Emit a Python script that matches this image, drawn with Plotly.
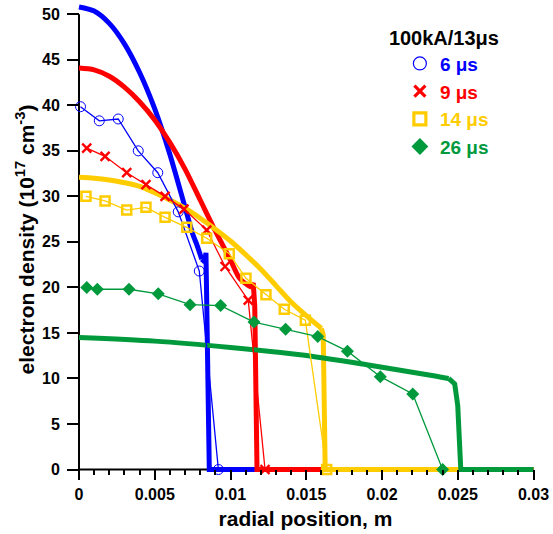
import plotly.graph_objects as go

# ---- simulation curves (thick) ----
sim_blue_x = [0, 0.001, 0.002, 0.003, 0.004, 0.005, 0.006, 0.007, 0.0075, 0.0078, 0.0081, 0.0083, 0.00838, 0.0085, 0.0086, 0.03]
sim_blue_y = [50.8, 50.35, 49.0, 46.75, 43.6, 39.6, 34.6, 28.8, 25.9, 24.6, 23.1, 22.8, 23.8, 12.0, 0, 0]

sim_red_x = [0, 0.001, 0.002, 0.003, 0.004, 0.005, 0.006, 0.007, 0.008, 0.009, 0.010, 0.0106, 0.0111, 0.0114, 0.0115, 0.0116, 0.01168, 0.01175, 0.03]
sim_red_y = [44.1, 43.9, 43.2, 42.0, 40.4, 38.4, 35.9, 33.0, 29.6, 26.2, 23.0, 21.0, 20.3, 20.0, 20.5, 18.0, 5.0, 0, 0]

sim_yel_x = [0, 0.001, 0.002, 0.003, 0.004, 0.005, 0.006, 0.007, 0.008, 0.009, 0.010, 0.011, 0.012, 0.013, 0.014, 0.015, 0.0160, 0.01612, 0.01618, 0.01625, 0.03]
sim_yel_y = [32.1, 32.0, 31.8, 31.5, 31.1, 30.4, 29.6, 28.7, 27.6, 26.4, 25.1, 23.6, 22.0, 20.2, 18.4, 16.9, 15.5, 14.8, 8.0, 0, 0]

sim_grn_x = [0, 0.005, 0.010, 0.0146, 0.019, 0.0234, 0.0244, 0.0248, 0.0250, 0.0251, 0.0252, 0.03]
sim_grn_y = [14.5, 14.1, 13.4, 12.6, 11.5, 10.3, 10.0, 9.4, 7.0, 2.0, 0, 0]

# index where each smooth profile turns into the sharp front (drawn straight from there)
front_index = [10, 13, 16, 6]

# ---- experimental points (thin lines + markers) ----
exp6_x = [0.0001, 0.00134, 0.00259, 0.00391, 0.0052, 0.00655, 0.00794, 0.0092]
exp6_y = [39.85, 38.3, 38.5, 35.0, 32.6, 28.3, 21.8, 0]

exp9_x = [0.00051, 0.00172, 0.00315, 0.00442, 0.00568, 0.00693, 0.00843, 0.00964, 0.01117, 0.01228]
exp9_y = [35.3, 34.4, 32.6, 31.3, 30.0, 28.6, 26.3, 22.3, 18.6, 0]

exp14_x = [0.00046, 0.00172, 0.00315, 0.00442, 0.00568, 0.00711, 0.00843, 0.00992, 0.01102, 0.01234, 0.01355, 0.01494, 0.01635]
exp14_y = [30.0, 29.5, 28.5, 28.8, 27.7, 26.6, 25.4, 23.7, 21.0, 19.2, 17.6, 16.4, 0]

exp26_x = [0.00051, 0.00121, 0.0033, 0.00523, 0.00733, 0.00935, 0.01155, 0.01364, 0.01576, 0.01772, 0.01989, 0.02203, 0.0240]
exp26_y = [20.0, 19.8, 19.8, 19.3, 18.1, 18.0, 16.2, 15.4, 14.6, 13.0, 10.2, 8.3, 0]

legend_labels = ["6 μs", "9 μs", "14 μs", "26 μs"]
x_tickvals = [0, 0.005, 0.01, 0.015, 0.02, 0.025, 0.03]
x_ticktext = ["0", "0.005", "0.01", "0.015", "0.02", "0.025", "0.03"]
y_tickvals = [0, 5, 10, 15, 20, 25, 30, 35, 40, 45, 50]

BLUE, RED, YEL, GRN = "#0000FF", "#FF0000", "#FFCC00", "#009A3D"

fig = go.Figure()

sims = [(sim_blue_x, sim_blue_y, BLUE), (sim_red_x, sim_red_y, RED),
        (sim_yel_x, sim_yel_y, YEL), (sim_grn_x, sim_grn_y, GRN)]
for (xs, ys, c), k in zip(sims, front_index):
    fig.add_trace(go.Scatter(x=xs[:k + 1], y=ys[:k + 1], mode="lines", showlegend=False,
                             line=dict(color=c, width=5, shape="spline", smoothing=0.8),
                             hoverinfo="skip"))
    fig.add_trace(go.Scatter(x=xs[k:], y=ys[k:], mode="lines", showlegend=False,
                             line=dict(color=c, width=5, shape="linear"),
                             hoverinfo="skip"))

exp_specs = [
    (exp6_x, exp6_y, BLUE, dict(symbol="circle-open", size=10, color=BLUE, line=dict(width=1, color=BLUE))),
    (exp9_x, exp9_y, RED, dict(symbol="x-thin", size=9, color=RED, line=dict(width=2.4, color=RED))),
    (exp14_x, exp14_y, YEL, dict(symbol="square-open", size=9, color=YEL, line=dict(width=2.5, color=YEL))),
    (exp26_x, exp26_y, GRN, dict(symbol="diamond", size=10, color=GRN)),
]
for xs, ys, c, mk in exp_specs:
    fig.add_trace(go.Scatter(x=xs, y=ys, mode="lines+markers", showlegend=False,
                             line=dict(color=c, width=1.3), marker=mk))

leg_markers = [
    dict(symbol="circle-open", size=13, color=BLUE, line=dict(width=1.2, color=BLUE)),
    dict(symbol="x-thin", size=11, color=RED, line=dict(width=3.2, color=RED)),
    dict(symbol="square-open", size=12, color=YEL, line=dict(width=3.2, color=YEL)),
    dict(symbol="diamond", size=13, color=GRN),
]
for lab, c, mk in zip(legend_labels, [BLUE, RED, YEL, GRN], leg_markers):
    fig.add_trace(go.Scatter(x=[None], y=[None], mode="markers", marker=mk,
                             name=f"<span style='color:{c}'>{lab}</span>"))

xr = [-0.000396, 0.030297]
yr = [-0.714, 51.24]

fig.update_layout(
    width=553, height=534,
    margin=dict(l=73, r=15, t=3, b=58),
    plot_bgcolor="white", paper_bgcolor="white",
    font=dict(family="Liberation Sans, Arial, sans-serif", size=16, color="black", weight="bold"),
    xaxis=dict(range=xr, anchor="free", position=(0 - yr[0]) / (yr[1] - yr[0]),
               tickmode="array", tickvals=x_tickvals, ticktext=x_ticktext,
               ticks="outside", ticklen=10, tickwidth=2, tickcolor="black",
               minor=dict(tickmode="linear", tick0=0, dtick=0.001, ticks="outside",
                          ticklen=5, tickwidth=1.5, tickcolor="black"),
               showline=False, showgrid=False, zeroline=False,
               tickfont=dict(size=16, weight="bold"),
               title=dict(text="radial position, m", font=dict(size=21, weight="bold"), standoff=9)),
    yaxis=dict(range=yr, anchor="free", position=(0 - xr[0]) / (xr[1] - xr[0]),
               tickmode="array", tickvals=y_tickvals,
               ticks="outside", ticklen=12, tickwidth=2, tickcolor="black",
               ticklabelstandoff=4,
               showline=False, showgrid=False, zeroline=False,
               tickfont=dict(size=16, weight="bold"),
               title=dict(text="electron density (10<sup>17</sup> cm<sup>-3</sup>)",
                          font=dict(size=21, weight="bold"), standoff=0)),
    legend=dict(x=0.675, y=0.967, xanchor="left", yanchor="top", bgcolor="rgba(0,0,0,0)",
                font=dict(size=19, weight="bold"), indentation=13,
                title=dict(text="100kA/13μs", font=dict(size=20, weight="bold", color="black"))),
    shapes=[
        dict(type="line", xref="x", yref="y", x0=0, x1=0.03, y0=0, y1=0,
             line=dict(color="black", width=2), layer="below"),
        dict(type="line", xref="x", yref="y", x0=0, x1=0, y0=0, y1=50,
             line=dict(color="black", width=2), layer="below"),
    ],
)

fig.write_html("out.html")
